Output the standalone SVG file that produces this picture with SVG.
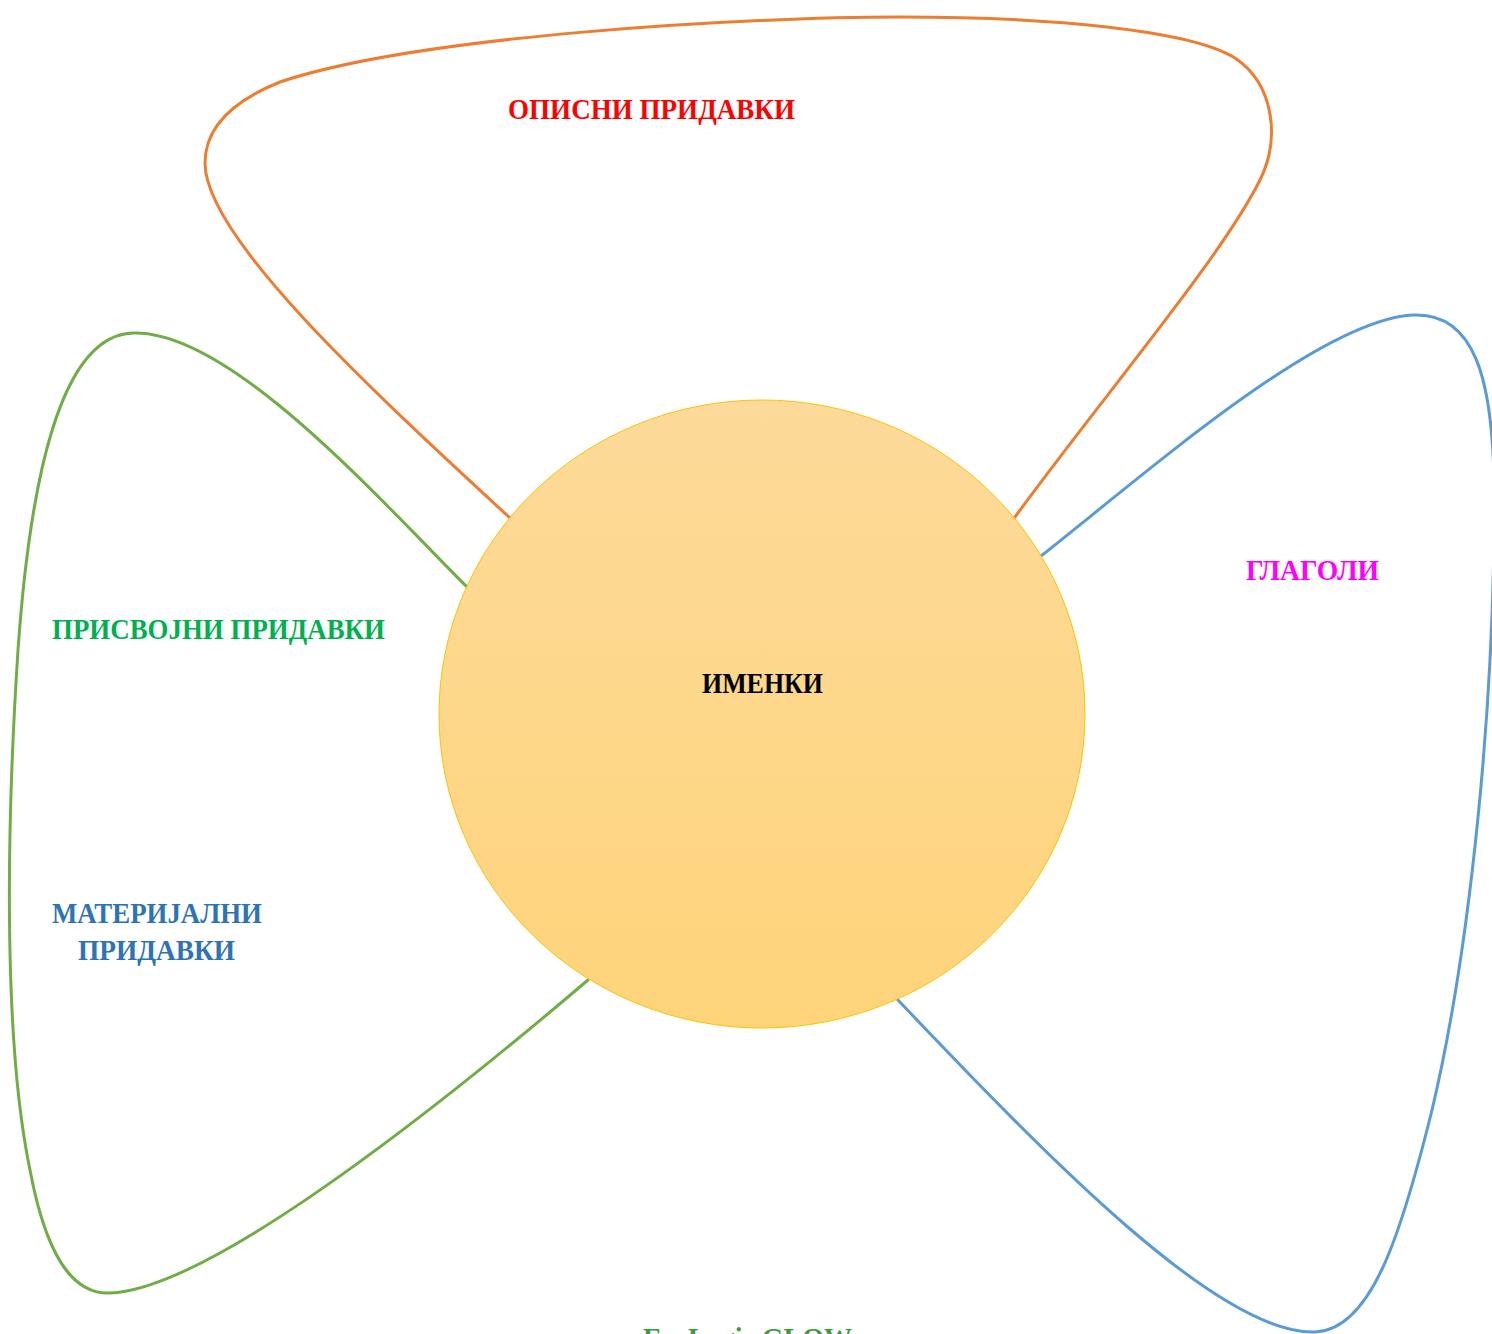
<svg xmlns="http://www.w3.org/2000/svg" width="1492" height="1334" viewBox="0 0 1492 1334">
<defs>
<linearGradient id="gold" x1="0" y1="0" x2="0" y2="1">
<stop offset="0" stop-color="#FDDA9A"/>
<stop offset="1" stop-color="#FED47A"/>
</linearGradient>
</defs>
<style>
.loop{fill:none;stroke-width:3;stroke-linejoin:round;stroke-linecap:round}
.t{font-family:"Liberation Serif","DejaVu Serif",serif;font-weight:bold;font-size:29px}
</style>
<rect width="1492" height="1334" fill="#FFFFFF"/>
<g id="connectors">
<path id="loop-top" class="loop" stroke="#ED7D31" d="M 510,518 C 360,380 205,235 205,163 C 205,125 235,100 280,82 C 420,35 750,17 900,17 C 1050,17 1190,30 1235,58 C 1275,85 1280,140 1260,180 C 1220,260 1100,400 1015,517"/>
<path id="loop-left" class="loop" stroke="#70AD47" d="M 467,587 C 380,500 230,330 133,333 C 60,335 30,480 18,650 C 5,850 5,1050 30,1170 C 45,1250 70,1295 110,1293 C 200,1290 400,1140 588,980"/>
<path id="loop-right" class="loop" stroke="#5B9BD5" d="M 1041,556 C 1150,470 1320,320 1413,315 C 1475,312 1492,380 1494,480 C 1496,700 1470,950 1432,1110 C 1400,1240 1370,1330 1315,1332 C 1220,1335 1050,1160 897,999"/>
</g>
<g id="node-imenki">
<ellipse cx="762" cy="714" rx="323" ry="314" fill="url(#gold)" stroke="#FFC000" stroke-width="1"/>
<text class="t" x="702" y="693" textLength="121" lengthAdjust="spacingAndGlyphs" fill="#000000">ИМЕНКИ</text>
</g>
<g id="label-opisni">
<text class="t" x="508" y="119" textLength="287" lengthAdjust="spacingAndGlyphs" fill="#FF0000">ОПИСНИ ПРИДАВКИ</text>
</g>
<g id="label-glagoli">
<text class="t" x="1246" y="580" textLength="133" lengthAdjust="spacingAndGlyphs" fill="#FF00FF">ГЛАГОЛИ</text>
</g>
<g id="label-prisvojni">
<text class="t" x="52" y="639" textLength="333" lengthAdjust="spacingAndGlyphs" fill="#00B050">ПРИСВОЈНИ ПРИДАВКИ</text>
</g>
<g id="label-materijalni">
<text class="t" x="52" y="923" textLength="210" lengthAdjust="spacingAndGlyphs" fill="#2E74B5">МАТЕРИЈАЛНИ</text>
<text class="t" x="78" y="960" textLength="157" lengthAdjust="spacingAndGlyphs" fill="#2E74B5">ПРИДАВКИ</text>
</g>
<g id="label-ecologic">
<text class="t" x="643" y="1348" textLength="209" lengthAdjust="spacingAndGlyphs" fill="#3B9C3B">EcoLogic GLOW</text>
</g>
</svg>
